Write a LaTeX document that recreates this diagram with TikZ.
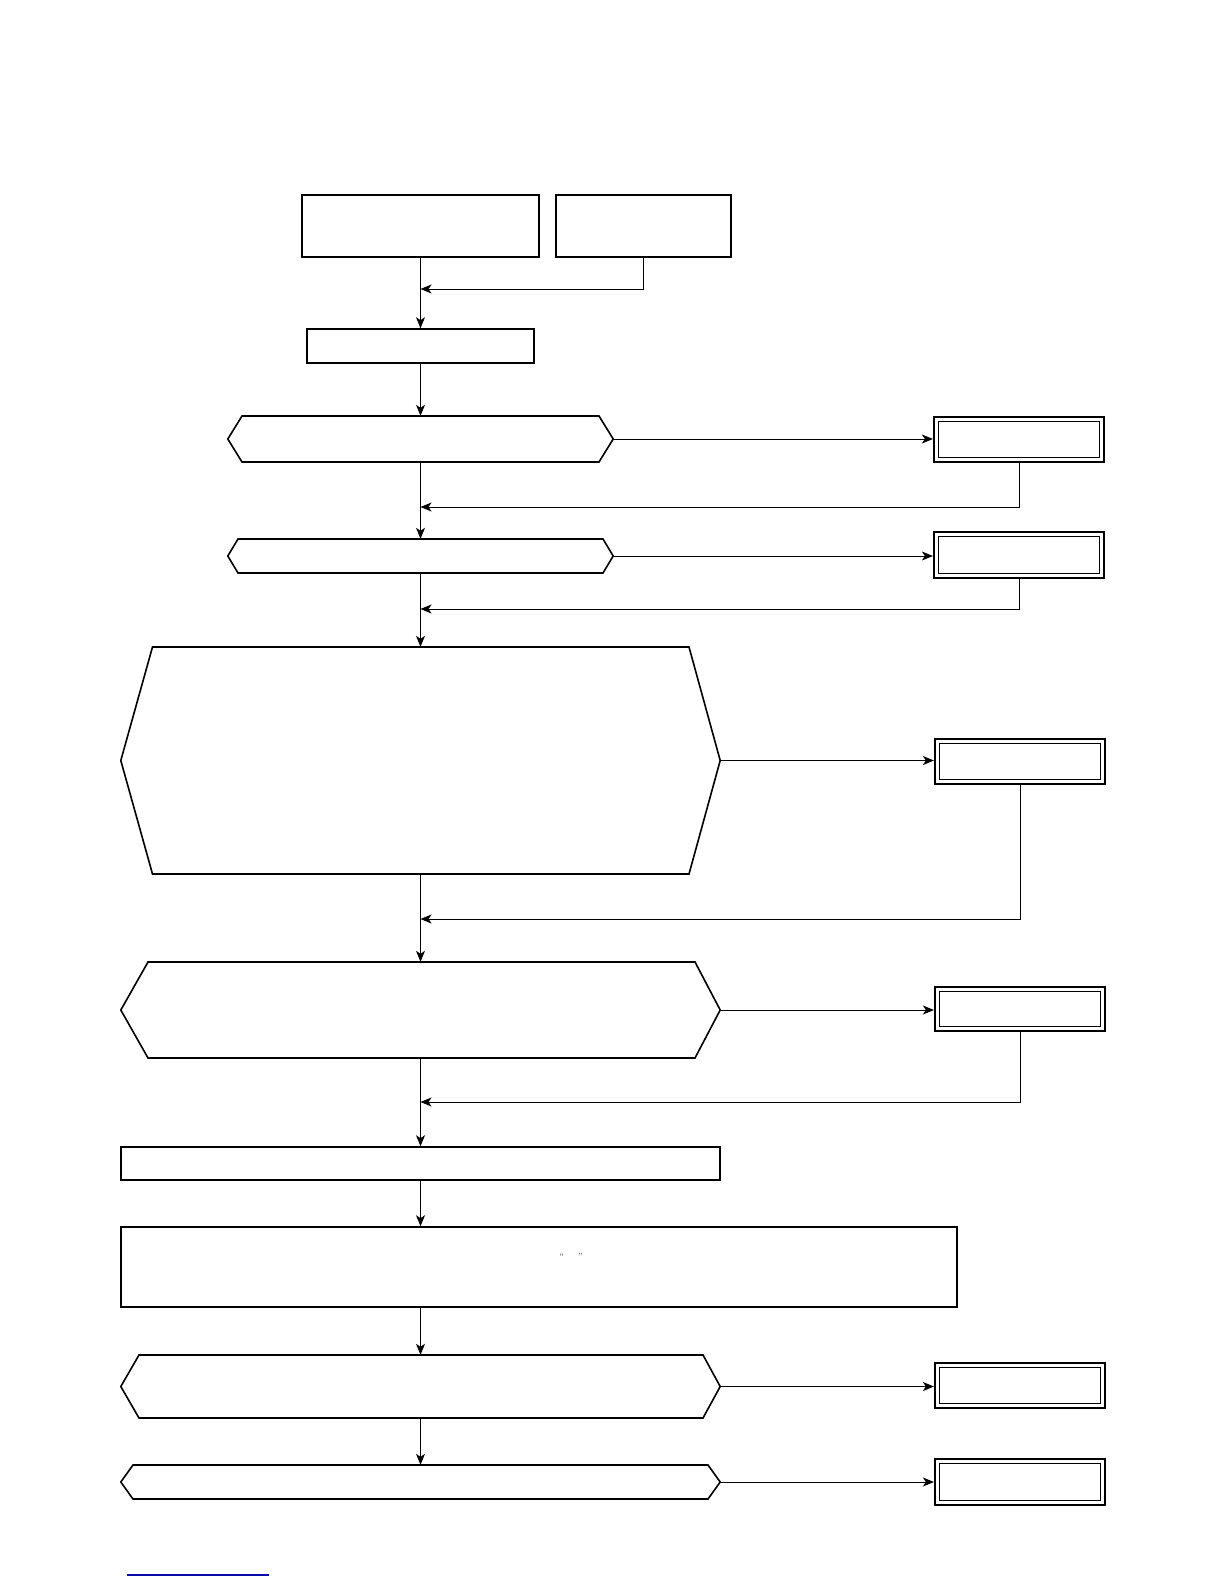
\documentclass[tikz,border=0pt]{standalone}
\usetikzlibrary{arrows.meta,fit}
\definecolor{linkblue}{RGB}{10,10,170}
\tikzset{
  boxs/.style={draw, line width=1.6pt, inner sep=0pt},
  dboxs/.style={draw, line width=2.2pt, inner sep=0pt},
  ghost/.style={inner sep=0pt},
  shapeline/.style={line width=1.6pt, line join=miter},
  innerline/.style={line width=0.9pt},
  conn/.style={line width=0.9pt, -{Stealth[length=11pt,width=9pt,inset=3pt]}},
  plainconn/.style={line width=0.9pt}
}
\newcommand\hexshape[7]{%
  \node[ghost, fit={(#2,#6) (#5,#7)}] (#1) {};
  \draw[shapeline] (#1.west) -- (#3,#6) -- (#4,#6) -- (#1.east) -- (#4,#7) -- (#3,#7) -- cycle;}
\newcommand\dblbox[5]{%
  \node[dboxs, fit={(#2,#3) (#4,#5)}] (#1) {};
  \draw[innerline] ([shift={(6,5.5)}]#1.north west) rectangle ([shift={(-6,-5.5)}]#1.south east);}
\begin{document}
\begin{tikzpicture}[x=1pt,y=-1pt]
\useasboundingbox (0,0) rectangle (1224,1584);
% top boxes
\node[boxs, fit={(302,195) (539,257)}] (A) {};
\node[boxs, fit={(556,195) (731,257)}] (B) {};
\node[boxs, fit={(307,329) (534,363)}] (C) {};
% decisions
\hexshape{D1}{228}{242}{599}{613}{416}{462}
\hexshape{D2}{228}{238}{603}{613}{539}{573}
\hexshape{H1}{121}{152.5}{689}{720}{647}{874}
\hexshape{H2}{121}{148}{695}{720}{962}{1058}
\node[boxs, fit={(121,1147) (720,1180)}] (R1) {};
\node[boxs, fit={(121,1227) (957,1307)}] (R2) {};
\node (q) at (571,1256) {\small “\hspace{14pt}”};
\hexshape{H3}{121}{139}{703}{720}{1355}{1418}
\hexshape{H4}{121}{133}{708}{720}{1465}{1499}
% double boxes
\dblbox{E1}{934}{417}{1104}{462}
\dblbox{E2}{934}{532}{1104}{578}
\dblbox{E3}{935}{739}{1105}{784}
\dblbox{E4}{935}{987}{1105}{1031}
\dblbox{E5}{935}{1363}{1105}{1408}
\dblbox{E6}{935}{1459}{1105}{1505}
% merge points
\coordinate (m0) at (420.5,289);
\coordinate (m1) at (420.5,507);
\coordinate (m2) at (420.5,609);
\coordinate (m3) at (420.5,919);
\coordinate (m4) at (420.5,1102);
% main flow
\draw[plainconn] (A.south) -- (A.south |- C.north);
\draw[conn] (m0) -- (m0 |- C.north);
\draw[conn] (B.south) |- (m0);
\draw[conn] (C.south) -- (C.south |- D1.north);
\draw[conn] (D1.south) -- (D1.south |- D2.north);
\draw[conn] (D2.south) -- (D2.south |- H1.north);
\draw[conn] (H1.south) -- (H1.south |- H2.north);
\draw[conn] (H2.south) -- (H2.south |- R1.north);
\draw[conn] (R1.south) -- (R1.south |- R2.north);
\draw[conn] (R2.south -| H3.north) -- (H3.north);
\draw[conn] (H3.south) -- (H4.north);
% side branches
\draw[conn] (D1.east) -- (D1.east -| E1.west);
\draw[conn] (D2.east) -- (D2.east -| E2.west);
\draw[conn] (H1.east) -- (H1.east -| E3.west);
\draw[conn] (H2.east) -- (H2.east -| E4.west);
\draw[conn] (H3.east) -- (H3.east -| E5.west);
\draw[conn] (H4.east) -- (H4.east -| E6.west);
% returns
\draw[conn] (E1.south) |- (m1);
\draw[conn] (E2.south) |- (m2);
\draw[conn] (E3.south) |- (m3);
\draw[conn] (E4.south) |- (m4);
% link underline
\draw[linkblue, line width=1.2pt] (127,1575) -- (269,1575);
\end{tikzpicture}
\end{document}
